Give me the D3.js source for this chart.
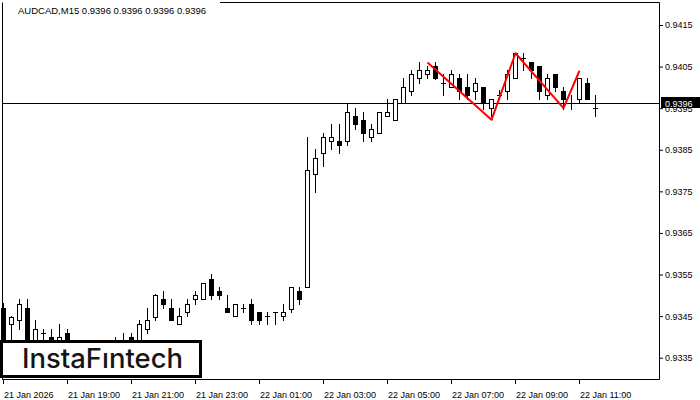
<!DOCTYPE html>
<meta charset='utf-8'>
<style>
body { margin: 0; background: #fff; }
svg { display: block; }
svg text { font-family: 'Liberation Sans', Arial, sans-serif; fill: #000; }
.axis text { font-size: 9px; }
.axis .domain { display: none; }
.axis line { stroke: #000; }
</style>
<body>
<script src='https://d3js.org/d3.v7.min.js'></script>
<script>

// Data: AUDCAD M15 bars, 21 Jan 17:00 onwards

let symbol = 'AUDCAD,M15', lastPrice = 0.93962

let open = [
	0.93470, 0.93430, 0.93440, 0.93469, 0.93381, 0.93410, 0.93399, 0.93383, 0.93410, 0.93369,
	0.93352, 0.93365, 0.93338, 0.93355, 0.93370, 0.93380, 0.93399, 0.93381, 0.93418, 0.93449,
	0.93491, 0.93470, 0.93430, 0.93459, 0.93491, 0.93491, 0.93539, 0.93511, 0.93470, 0.93450,
	0.93470, 0.93479, 0.93459, 0.93450, 0.93459, 0.93450, 0.93468, 0.93510, 0.93520, 0.93791,
	0.93842, 0.93870, 0.93870, 0.93870, 0.93931, 0.93922, 0.93881, 0.93890, 0.93931, 0.93921,
	0.93962, 0.93991, 0.94023, 0.94032, 0.94051, 0.94011, 0.94001, 0.94023, 0.94001, 0.93991,
	0.94000, 0.93950, 0.93981, 0.93991, 0.94022, 0.94071, 0.94061, 0.94051, 0.93981, 0.94032,
	0.93991, 0.93962, 0.93971, 0.94010, 0.93950]
let high = [
	0.93482, 0.93450, 0.93491, 0.93491, 0.93440, 0.93418, 0.93418, 0.93430, 0.93418, 0.93380,
	0.93372, 0.93378, 0.93362, 0.93376, 0.93399, 0.93410, 0.93410, 0.93440, 0.93469, 0.93503,
	0.93511, 0.93491, 0.93470, 0.93491, 0.93511, 0.93530, 0.93552, 0.93520, 0.93501, 0.93479,
	0.93479, 0.93491, 0.93459, 0.93459, 0.93459, 0.93479, 0.93520, 0.93520, 0.93881, 0.93851,
	0.93890, 0.93912, 0.93912, 0.93962, 0.93950, 0.93941, 0.93912, 0.93940, 0.93971, 0.93971,
	0.94023, 0.94042, 0.94061, 0.94051, 0.94061, 0.94032, 0.94042, 0.94032, 0.94032, 0.94023,
	0.94000, 0.93971, 0.93994, 0.94042, 0.94082, 0.94082, 0.94061, 0.94051, 0.94032, 0.94032,
	0.94000, 0.93981, 0.94023, 0.94023, 0.93981]
let low = [
	0.93345, 0.93369, 0.93418, 0.93340, 0.93369, 0.93374, 0.93364, 0.93369, 0.93354, 0.93345,
	0.93340, 0.93330, 0.93325, 0.93342, 0.93355, 0.93360, 0.93370, 0.93372, 0.93409, 0.93440,
	0.93469, 0.93440, 0.93430, 0.93450, 0.93479, 0.93491, 0.93491, 0.93491, 0.93459, 0.93450,
	0.93459, 0.93430, 0.93430, 0.93430, 0.93430, 0.93440, 0.93459, 0.93479, 0.93520, 0.93749,
	0.93810, 0.93851, 0.93842, 0.93861, 0.93899, 0.93870, 0.93870, 0.93890, 0.93930, 0.93921,
	0.93962, 0.93981, 0.94010, 0.94023, 0.94020, 0.93981, 0.94001, 0.93971, 0.93971, 0.93971,
	0.93949, 0.93930, 0.93971, 0.93971, 0.94022, 0.94042, 0.94022, 0.93971, 0.93971, 0.93991,
	0.93949, 0.93949, 0.93962, 0.93971, 0.93930]
let close = [
	0.93364, 0.93449, 0.93479, 0.93357, 0.93418, 0.93410, 0.93381, 0.93399, 0.93369, 0.93352,
	0.93365, 0.93338, 0.93355, 0.93370, 0.93380, 0.93375, 0.93386, 0.93430, 0.93440, 0.93501,
	0.93479, 0.93440, 0.93450, 0.93479, 0.93501, 0.93530, 0.93500, 0.93500, 0.93459, 0.93479,
	0.93470, 0.93440, 0.93440, 0.93450, 0.93459, 0.93459, 0.93520, 0.93491, 0.93801, 0.93830,
	0.93881, 0.93881, 0.93861, 0.93940, 0.93911, 0.93890, 0.93900, 0.93940, 0.93941, 0.93971,
	0.94000, 0.94032, 0.94042, 0.94042, 0.94023, 0.94011, 0.94032, 0.93991, 0.93981, 0.94010,
	0.93962, 0.93971, 0.93981, 0.94032, 0.94082, 0.94071, 0.94042, 0.93991, 0.94023, 0.94000,
	0.93971, 0.93962, 0.94023, 0.93971, 0.93950]

// pattern outline (bar index, price)
let patternBar = [53, 61, 64, 70, 72]
let patternPrice = [0.94060, 0.93922, 0.94082, 0.93950, 0.94040]

let yTicks = [0.9335, 0.9345, 0.9355, 0.9365, 0.9375, 0.9385, 0.9395, 0.9405, 0.9415]
let xTickBars = [0, 8, 16, 24, 32, 40, 48, 56, 64, 72]
let xTickLabels = ['21 Jan 2026', '21 Jan 19:00', '21 Jan 21:00', '21 Jan 23:00', '22 Jan 01:00',
	'22 Jan 03:00', '22 Jan 05:00', '22 Jan 07:00', '22 Jan 09:00', '22 Jan 11:00']


// Setup

let W = 700, H = 400,
	frame = {left: 2, top: 2, right: 659, bottom: 379},
	x = d3.scaleLinear().domain([0, 1]).range([3, 11]),
	y = d3.scaleLinear().domain([0.9335, 0.9415]).range([357.7, 25]),
	py = p => Math.round(y(p))

let svg = d3.select('body').append('svg').attr('width', W).attr('height', H)

// frame
svg.append('path')
	.attr('d', `M${frame.left + .5},${frame.top + .5}V${frame.bottom + .5}H${frame.right + .5}V${frame.top + .5}H220`)
	.attr('fill', 'none').attr('stroke', '#000')

// bid line
svg.append('line')
	.attr('x1', frame.left).attr('x2', frame.right)
	.attr('y1', py(lastPrice) + .5).attr('y2', py(lastPrice) + .5)
	.attr('stroke', '#000')


// Candles

let bars = open.map((o, i) => ({i, o, h: high[i], l: low[i], c: close[i]}))

let g = svg.append('g').attr('class', 'candles')
bars.forEach(d => {
	let cx = Math.round(x(d.i)),
		yo = py(d.o), yc = py(d.c)
	g.append('line')
		.attr('x1', cx + .5).attr('x2', cx + .5)
		.attr('y1', py(d.h)).attr('y2', py(d.l) + 1)
		.attr('stroke', '#000')
	if (yo == yc) {
		g.append('line')
			.attr('x1', cx - 2).attr('x2', cx + 3)
			.attr('y1', yo + .5).attr('y2', yo + .5)
			.attr('stroke', '#000')
		return }
	let top = Math.min(yo, yc), bot = Math.max(yo, yc)
	g.append('rect')
		.attr('x', cx - 1.5).attr('y', top + .5)
		.attr('width', 4).attr('height', bot - top)
		.attr('fill', d.c > d.o ? '#fff' : '#000').attr('stroke', '#000')
})

// pattern
svg.append('path')
	.datum(patternBar.map((b, i) => [b, patternPrice[i]]))
	.attr('d', d3.line().x(d => x(d[0]) + .5).y(d => y(d[1])))
	.attr('fill', 'none').attr('stroke', '#f00').attr('stroke-width', 2)
	.attr('stroke-linejoin', 'round')


// Logo

svg.append('rect')
	.attr('x', 1.5).attr('y', 341.5).attr('width', 199).attr('height', 35)
	.attr('fill', '#fff').attr('stroke', '#000').attr('stroke-width', 3)
svg.append('text')
	.attr('x', 22).attr('y', 368)
	.attr('textLength', 161).attr('lengthAdjust', 'spacingAndGlyphs')
	.style('font-family', "Inter, 'Noto Sans', sans-serif").style('font-size', '27px')
	.style('font-weight', 500).style('fill', '#151515')
	.text('InstaF\u0131ntech')


// Axes

svg.append('g').attr('class', 'axis')
	.attr('transform', `translate(${frame.right + 1},0)`)
	.call(d3.axisRight(y).tickValues(yTicks).tickSize(3).tickPadding(2).tickFormat(d3.format('.4f')))

svg.append('g').attr('class', 'axis')
	.attr('transform', `translate(0,${frame.bottom + 1})`)
	.call(d3.axisBottom(x).tickValues(xTickBars).tickSize(4).tickFormat((d, i) => xTickLabels[i]))
	.call(s => s.selectAll('text').attr('text-anchor', 'start').attr('x', 0.5).attr('y', 11.5))

// current price tag
svg.append('rect')
	.attr('x', 661).attr('y', py(lastPrice) - 6).attr('width', 39).attr('height', 11)
	.attr('fill', '#000')
svg.append('text')
	.attr('x', 665).attr('y', py(lastPrice) + 3.5)
	.style('font-size', '9px').style('fill', '#fff')
	.text(d3.format('.4f')(lastPrice))

// title
svg.append('text')
	.attr('x', 18).attr('y', 14)
	.style('font-size', '9.5px')
	.text(`${symbol}  ${[0,0,0,0].map(() => d3.format('.4f')(lastPrice)).join(' ')}`)

</script>
</body>
